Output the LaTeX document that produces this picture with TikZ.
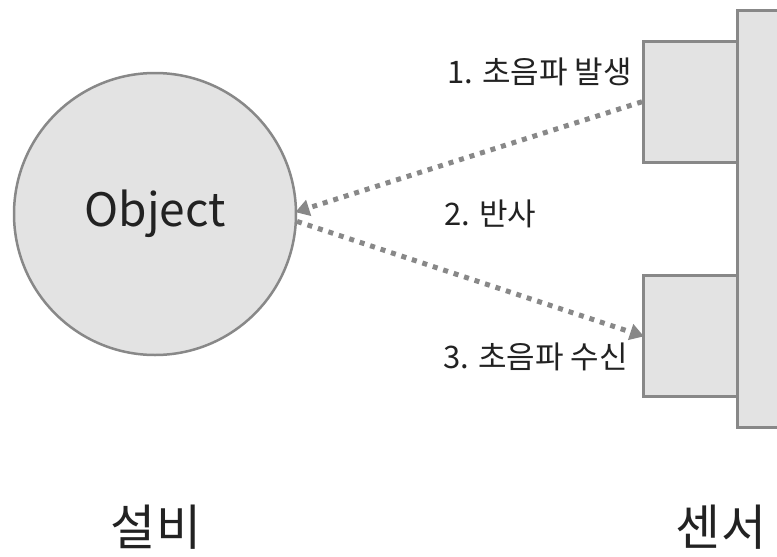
\documentclass[tikz,border=0pt]{standalone}
\usepackage{fontspec}
\setmainfont{Noto Sans CJK KR}
\usetikzlibrary{arrows.meta}
\definecolor{fillg}{HTML}{E3E3E3}
\definecolor{edgeg}{HTML}{888888}
\definecolor{txt}{HTML}{222222}
\tikzset{
  part/.style={draw=edgeg, fill=fillg, line width=2.5pt, inner sep=0pt},
  wave/.style={draw=edgeg, line width=5pt, dash pattern=on 5pt off 6pt, -{Triangle[length=14pt,width=16pt]}, shorten >=-2pt},
  lbl/.style={text=txt, font=\fontsize{31}{34}\selectfont, inner sep=0pt},
  big/.style={text=txt, font=\fontsize{49}{52}\selectfont, inner sep=0pt}
}
\begin{document}
\begin{tikzpicture}[x=1pt,y=-1pt]
\useasboundingbox (0,0) rectangle (777,557);
\clip (0,0) rectangle (777,557);
\fill[white] (0,0) rectangle (777,557);
\node[part, minimum width=60pt, minimum height=417pt, anchor=north west] (sensor) at (736,9) {};
\node[part, minimum width=94pt, minimum height=121pt, anchor=north west] (box1) at (642,40) {};
\node[part, minimum width=94pt, minimum height=121pt, anchor=north west] (box2) at (642,274) {};
\node[part, circle, minimum size=282pt, text=txt, font=\fontsize{46}{50}\selectfont] (obj) at (155,214) {Object};
\draw[wave] (box1.west) -- (obj.1);
\draw[wave] (obj.-3) -- (box2.west);
\node[lbl, anchor=east] (l1) at (632,72) {1. 초음파 발생};
\node[lbl, anchor=west] (l2) at (444,214) {2. 반사};
\node[lbl, anchor=east] (l3) at (628,357) {3. 초음파 수신};
\node[big] (t1) at (156,527) {설비};
\node[big] (t2) at (721,527) {센서};
\end{tikzpicture}
\end{document}
